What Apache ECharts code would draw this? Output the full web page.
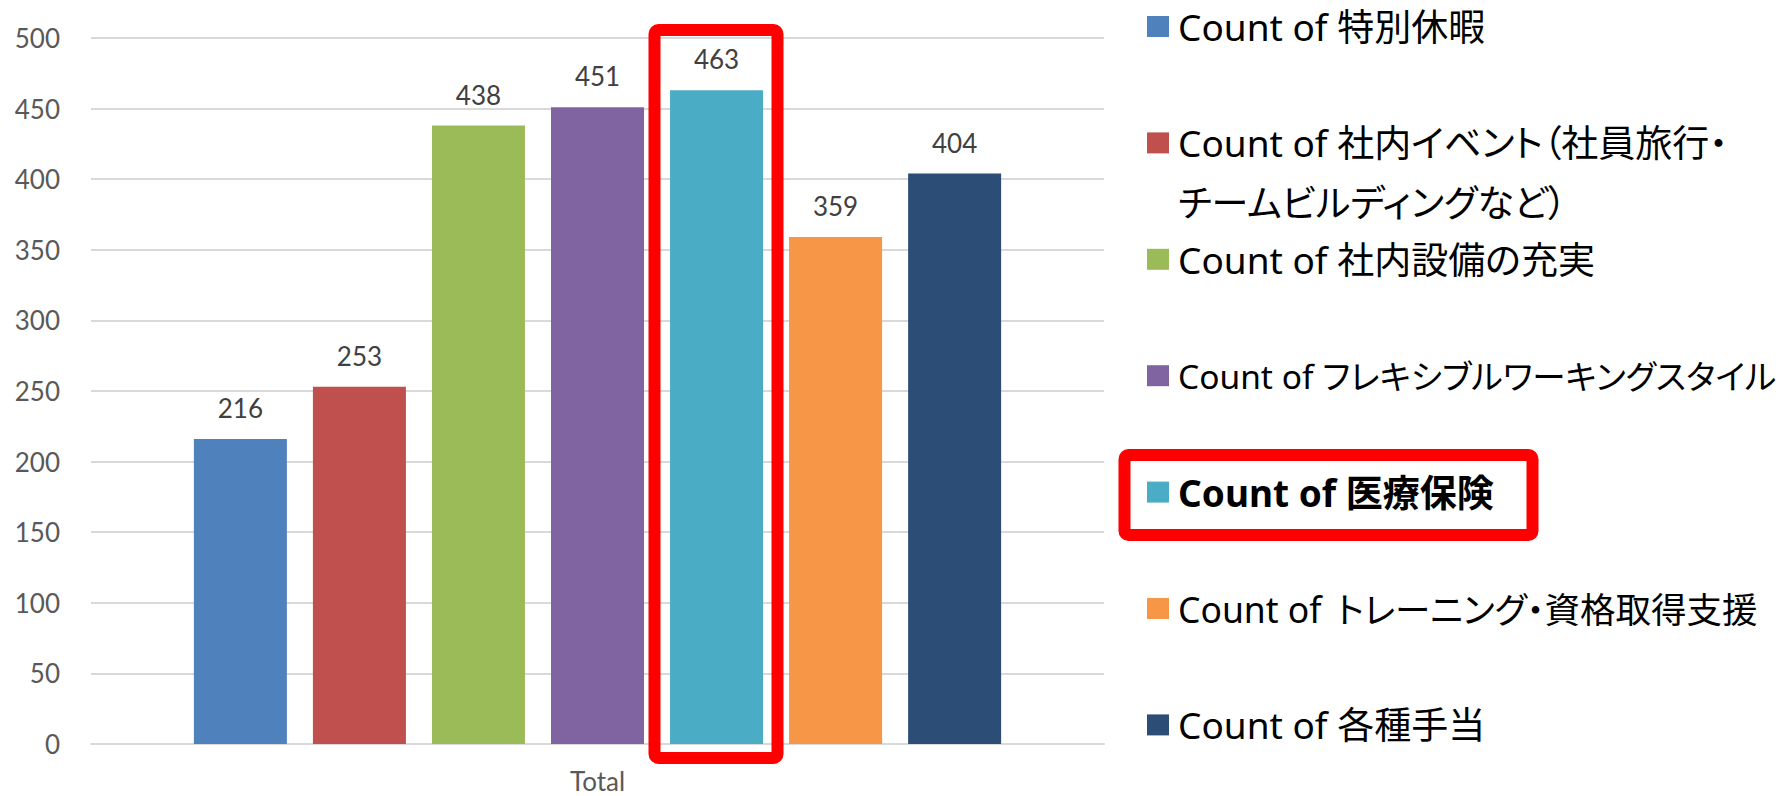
<!DOCTYPE html>
<html>
<head>
<meta charset="utf-8">
<script src="https://cdn.jsdelivr.net/npm/echarts@6.0.0/dist/echarts.min.js"></script>
<style>
html, body { margin: 0; padding: 0; background: #ffffff; }
#chart { width: 1781px; height: 796px; }
#chart text { font-feature-settings: "palt" 1 !important; }
</style>
</head>
<body>
<div id="chart"></div>
<script>
// ---- data ----
const categories = ['Total'];
const seriesNames = [
  '特別休暇',
  '社内イベント（社員旅行・チームビルディングなど）',
  '社内設備の充実',
  'フレキシブルワーキングスタイル',
  '医療保険',
  'トレーニング・資格取得支援',
  '各種手当'
];
const legendLabels = [
  'Count of 特別休暇',
  'Count of 社内イベント（社員旅行・\nチームビルディングなど）',
  'Count of 社内設備の充実',
  'Count of フレキシブルワーキングスタイル',
  'Count of 医療保険',
  'Count of \u2009トレーニング・資格取得支援',
  'Count of 各種手当'
];
const seriesValues = [216, 253, 438, 451, 463, 359, 404];
const yMin = 0, yMax = 500, yInterval = 50;
const highlightedIndex = 4;

// ---- styles ----
const seriesColors = ['#4F81BD', '#C0504D', '#9BBB59', '#8064A2', '#4BACC6', '#F79646', '#2C4D75'];
const legendFontSizes = [37, 37, 37, 33.5, 37, 35.5, 37];
const axisFont = 'Lato, "Noto Sans", sans-serif';
const legendFont = '"Noto Sans", "Noto Sans CJK JP", sans-serif';

const chart = echarts.init(document.getElementById('chart'), null, { renderer: 'svg', width: 1781, height: 796 });

const series = seriesNames.map((name, i) => ({
  name: name,
  type: 'bar',
  data: [seriesValues[i]],
  barWidth: 93,
  barGap: '28%',
  itemStyle: { color: seriesColors[i] },
  emphasis: { disabled: true },
  label: {
    show: true,
    position: 'top',
    distance: 18,
    color: '#404040',
    fontFamily: axisFont,
    fontSize: 26,
    lineHeight: 26
  }
}));

// one legend block per row, to mimic Excel's even row spacing
const legendFirstCenter = 26.5, legendStep = 116.4, legendLine = 60;
const legends = seriesNames.map((name, i) => {
  const lines = legendLabels[i].split('\n').length;
  const center = legendFirstCenter + i * legendStep;
  // leading blank lines keep the icon on the first text line
  const shown = '\n'.repeat(lines - 1) + legendLabels[i];
  const boxH = (2 * lines - 1) * legendLine;
  return {
    left: 1147,
    top: center - boxH / 2,
    orient: 'vertical',
    padding: 0,
    itemWidth: 22,
    itemHeight: 21,
    icon: 'rect',
    selectedMode: false,
    formatter: () => shown,
    data: [{
      name: name,
      textStyle: {
        fontWeight: i === highlightedIndex ? 'bold' : 'normal',
        fontSize: legendFontSizes[i]
      }
    }],
    textStyle: {
      color: '#000000',
      fontFamily: legendFont,
      fontSize: 37,
      lineHeight: legendLine,
      padding: [0, 0, 0, 4]
    }
  };
});

chart.setOption({
  animation: false,
  backgroundColor: '#ffffff',
  grid: { left: 91, right: 677, top: 38, bottom: 52, containLabel: false },
  legend: legends,
  xAxis: {
    type: 'category',
    data: categories,
    axisTick: { show: false },
    axisLine: { show: true, lineStyle: { color: '#d9d9d9', width: 2 } },
    axisLabel: { color: '#595959', fontFamily: axisFont, fontSize: 26, lineHeight: 20, margin: 27 }
  },
  yAxis: {
    type: 'value',
    min: yMin,
    max: yMax,
    interval: yInterval,
    axisLine: { show: false },
    axisTick: { show: false },
    splitLine: { lineStyle: { color: '#d9d9d9', width: 2 } },
    axisLabel: { color: '#595959', fontFamily: axisFont, fontSize: 26, margin: 31 }
  },
  series: series,
  graphic: [
    {
      type: 'rect', z: 100, silent: true,
      shape: { x: 654.5, y: 30, width: 123, height: 728, r: 4 },
      style: { fill: 'none', stroke: '#ff0000', lineWidth: 12 }
    },
    {
      type: 'rect', z: 100, silent: true,
      shape: { x: 1124.5, y: 455, width: 408, height: 80, r: 4 },
      style: { fill: 'none', stroke: '#ff0000', lineWidth: 12 }
    }
  ]
});
</script>
</body>
</html>
